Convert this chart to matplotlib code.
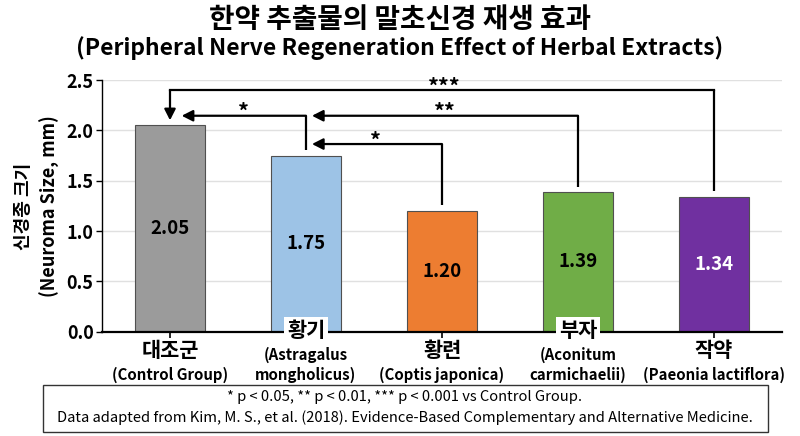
import matplotlib
matplotlib.use('Agg')
import matplotlib.pyplot as plt
from matplotlib.patches import Rectangle
from matplotlib.transforms import blended_transform_factory

plt.rcParams['font.family'] = ['Noto Sans CJK KR', 'DejaVu Sans']

# Data
groups_kr = ['대조군', '황기', '황련', '부자', '작약']
groups_en = ['(Control Group)', '(Astragalus\nmongholicus)', '(Coptis japonica)',
             '(Aconitum\ncarmichaelii)', '(Paeonia lactiflora)']
neuroma_size = [2.05, 1.75, 1.20, 1.39, 1.34]
bar_colors = ['#9b9b9b', '#9dc3e6', '#ed7d31', '#70ad47', '#7030a0']
value_colors = ['black', 'black', 'black', 'black', 'white']

# significance comparisons: (from bar, to bar, label)
sig_from = [4, 1, 3, 2]
sig_to = [0, 0, 1, 1]
sig_labels = ['***', '*', '**', '*']

# bracket layout: (level, start height, arrow end, text x)
bracket_level = [2.40, 2.145, 2.145, 1.864]
bracket_start = [1.40, 1.805, 1.44, 1.26]
arrow_end = [2.10, 0.086, 1.044, 1.044]
label_x = [2.02, 0.54, 2.02, 1.51]

fig = plt.figure(figsize=(8, 4.36), dpi=100)
ax = fig.add_axes([0.1275, 0.2392, 0.85, 0.5773])

x = list(range(len(groups_kr)))
ax.bar(x, neuroma_size, width=0.515, color=bar_colors, edgecolor='#505050',
       linewidth=0.8, zorder=2)
ax.set_xlim(-0.5, 4.5)
ax.set_ylim(0, 2.5)
ax.set_yticks([0, 0.5, 1.0, 1.5, 2.0, 2.5])
ax.set_yticklabels(['0.0', '0.5', '1.0', '1.5', '2.0', '2.5'], fontsize=13, fontweight='bold')
ax.yaxis.grid(True, color='#e0e0e0', linewidth=1)
ax.set_axisbelow(True)
for s in ['top', 'right']:
    ax.spines[s].set_visible(False)
ax.spines['left'].set_linewidth(1.0)
ax.spines['bottom'].set_linewidth(1.6)
ax.tick_params(axis='y', length=4, width=1, pad=2)
ax.set_xticks(x)
ax.set_xticklabels([])
ax.tick_params(axis='x', length=4, width=1.2)

# values inside bars
for i, v in enumerate(neuroma_size):
    ax.text(i, v / 2, f'{v:.2f}', ha='center', va='center', fontsize=13.5,
            fontweight='bold', color=value_colors[i], zorder=3)

# staggered category labels
trans = blended_transform_factory(ax.transData, ax.transAxes)
for i in x:
    if i % 2 == 0:
        ax.annotate(groups_kr[i], xy=(i, 0), xycoords=trans, xytext=(0, -13.5),
                    textcoords='offset points', ha='center', va='center',
                    fontsize=15, fontweight='bold', annotation_clip=False)
        ax.annotate(groups_en[i], xy=(i, 0), xycoords=trans, xytext=(0, -31),
                    textcoords='offset points', ha='center', va='center',
                    fontsize=10.8, fontweight='bold', annotation_clip=False)
    else:
        ax.annotate(groups_kr[i], xy=(i, 0), xycoords=trans, xytext=(0, 1),
                    textcoords='offset points', ha='center', va='center',
                    fontsize=15, fontweight='bold', annotation_clip=False, zorder=5,
                    bbox=dict(boxstyle='square,pad=0.12', fc='white', ec='none'))
        ax.annotate(groups_en[i], xy=(i, 0), xycoords=trans, xytext=(0, -24),
                    textcoords='offset points', ha='center', va='center',
                    fontsize=10.8, fontweight='bold', linespacing=1.3,
                    annotation_clip=False)

# significance brackets
for k in range(len(sig_labels)):
    a, b = sig_from[k], sig_to[k]
    lvl = bracket_level[k]
    ax.plot([a, a], [bracket_start[k], lvl], color='black', lw=1.6, zorder=4,
            solid_capstyle='butt')
    arrow_kw = dict(arrowstyle='-|>,head_length=0.55,head_width=0.28', color='black',
                    lw=1.6, shrinkA=0, shrinkB=0, mutation_scale=12)
    if b == 0 and a == 4:
        ax.plot([a, b], [lvl, lvl], color='black', lw=1.6, zorder=4)
        ax.annotate('', xy=(b, arrow_end[k]), xytext=(b, lvl), arrowprops=arrow_kw)
    else:
        ax.annotate('', xy=(arrow_end[k], lvl), xytext=(a, lvl), arrowprops=arrow_kw)
    ax.annotate(sig_labels[k], xy=(label_x[k], lvl), xytext=(0, -2.5),
                textcoords='offset points', ha='center', va='baseline',
                fontsize=15.5, fontweight='bold')

# titles
fig.text(0.5, 0.954, '한약 추출물의 말초신경 재생 효과', ha='center', va='center',
         fontsize=20, fontweight='bold')
fig.text(0.5, 0.889, '(Peripheral Nerve Regeneration Effect of Herbal Extracts)',
         ha='center', va='center', fontsize=16.5, fontweight='bold')

# y label
fig.text(0.029, 0.527, '신경종 크기', rotation=90, ha='center', va='center',
         fontsize=13, fontweight='bold')
fig.text(0.0625, 0.527, '(Neuroma Size, mm)', rotation=90, ha='center', va='center',
         fontsize=13, fontweight='bold')

# footnote box
fig.patches.append(Rectangle((0.054, 0.009), 0.906, 0.108, transform=fig.transFigure,
                             fill=False, edgecolor='#333333', linewidth=1.0))
fig.text(0.506, 1 - 397 / 436, '* p < 0.05, ** p < 0.01, *** p < 0.001 vs Control Group.',
         ha='center', va='center', fontsize=10.6)
fig.text(0.506, 1 - 418 / 436,
         'Data adapted from Kim, M. S., et al. (2018). Evidence-Based Complementary and Alternative Medicine.',
         ha='center', va='center', fontsize=10.6)

fig.savefig('out.png', dpi=100, facecolor='white')
